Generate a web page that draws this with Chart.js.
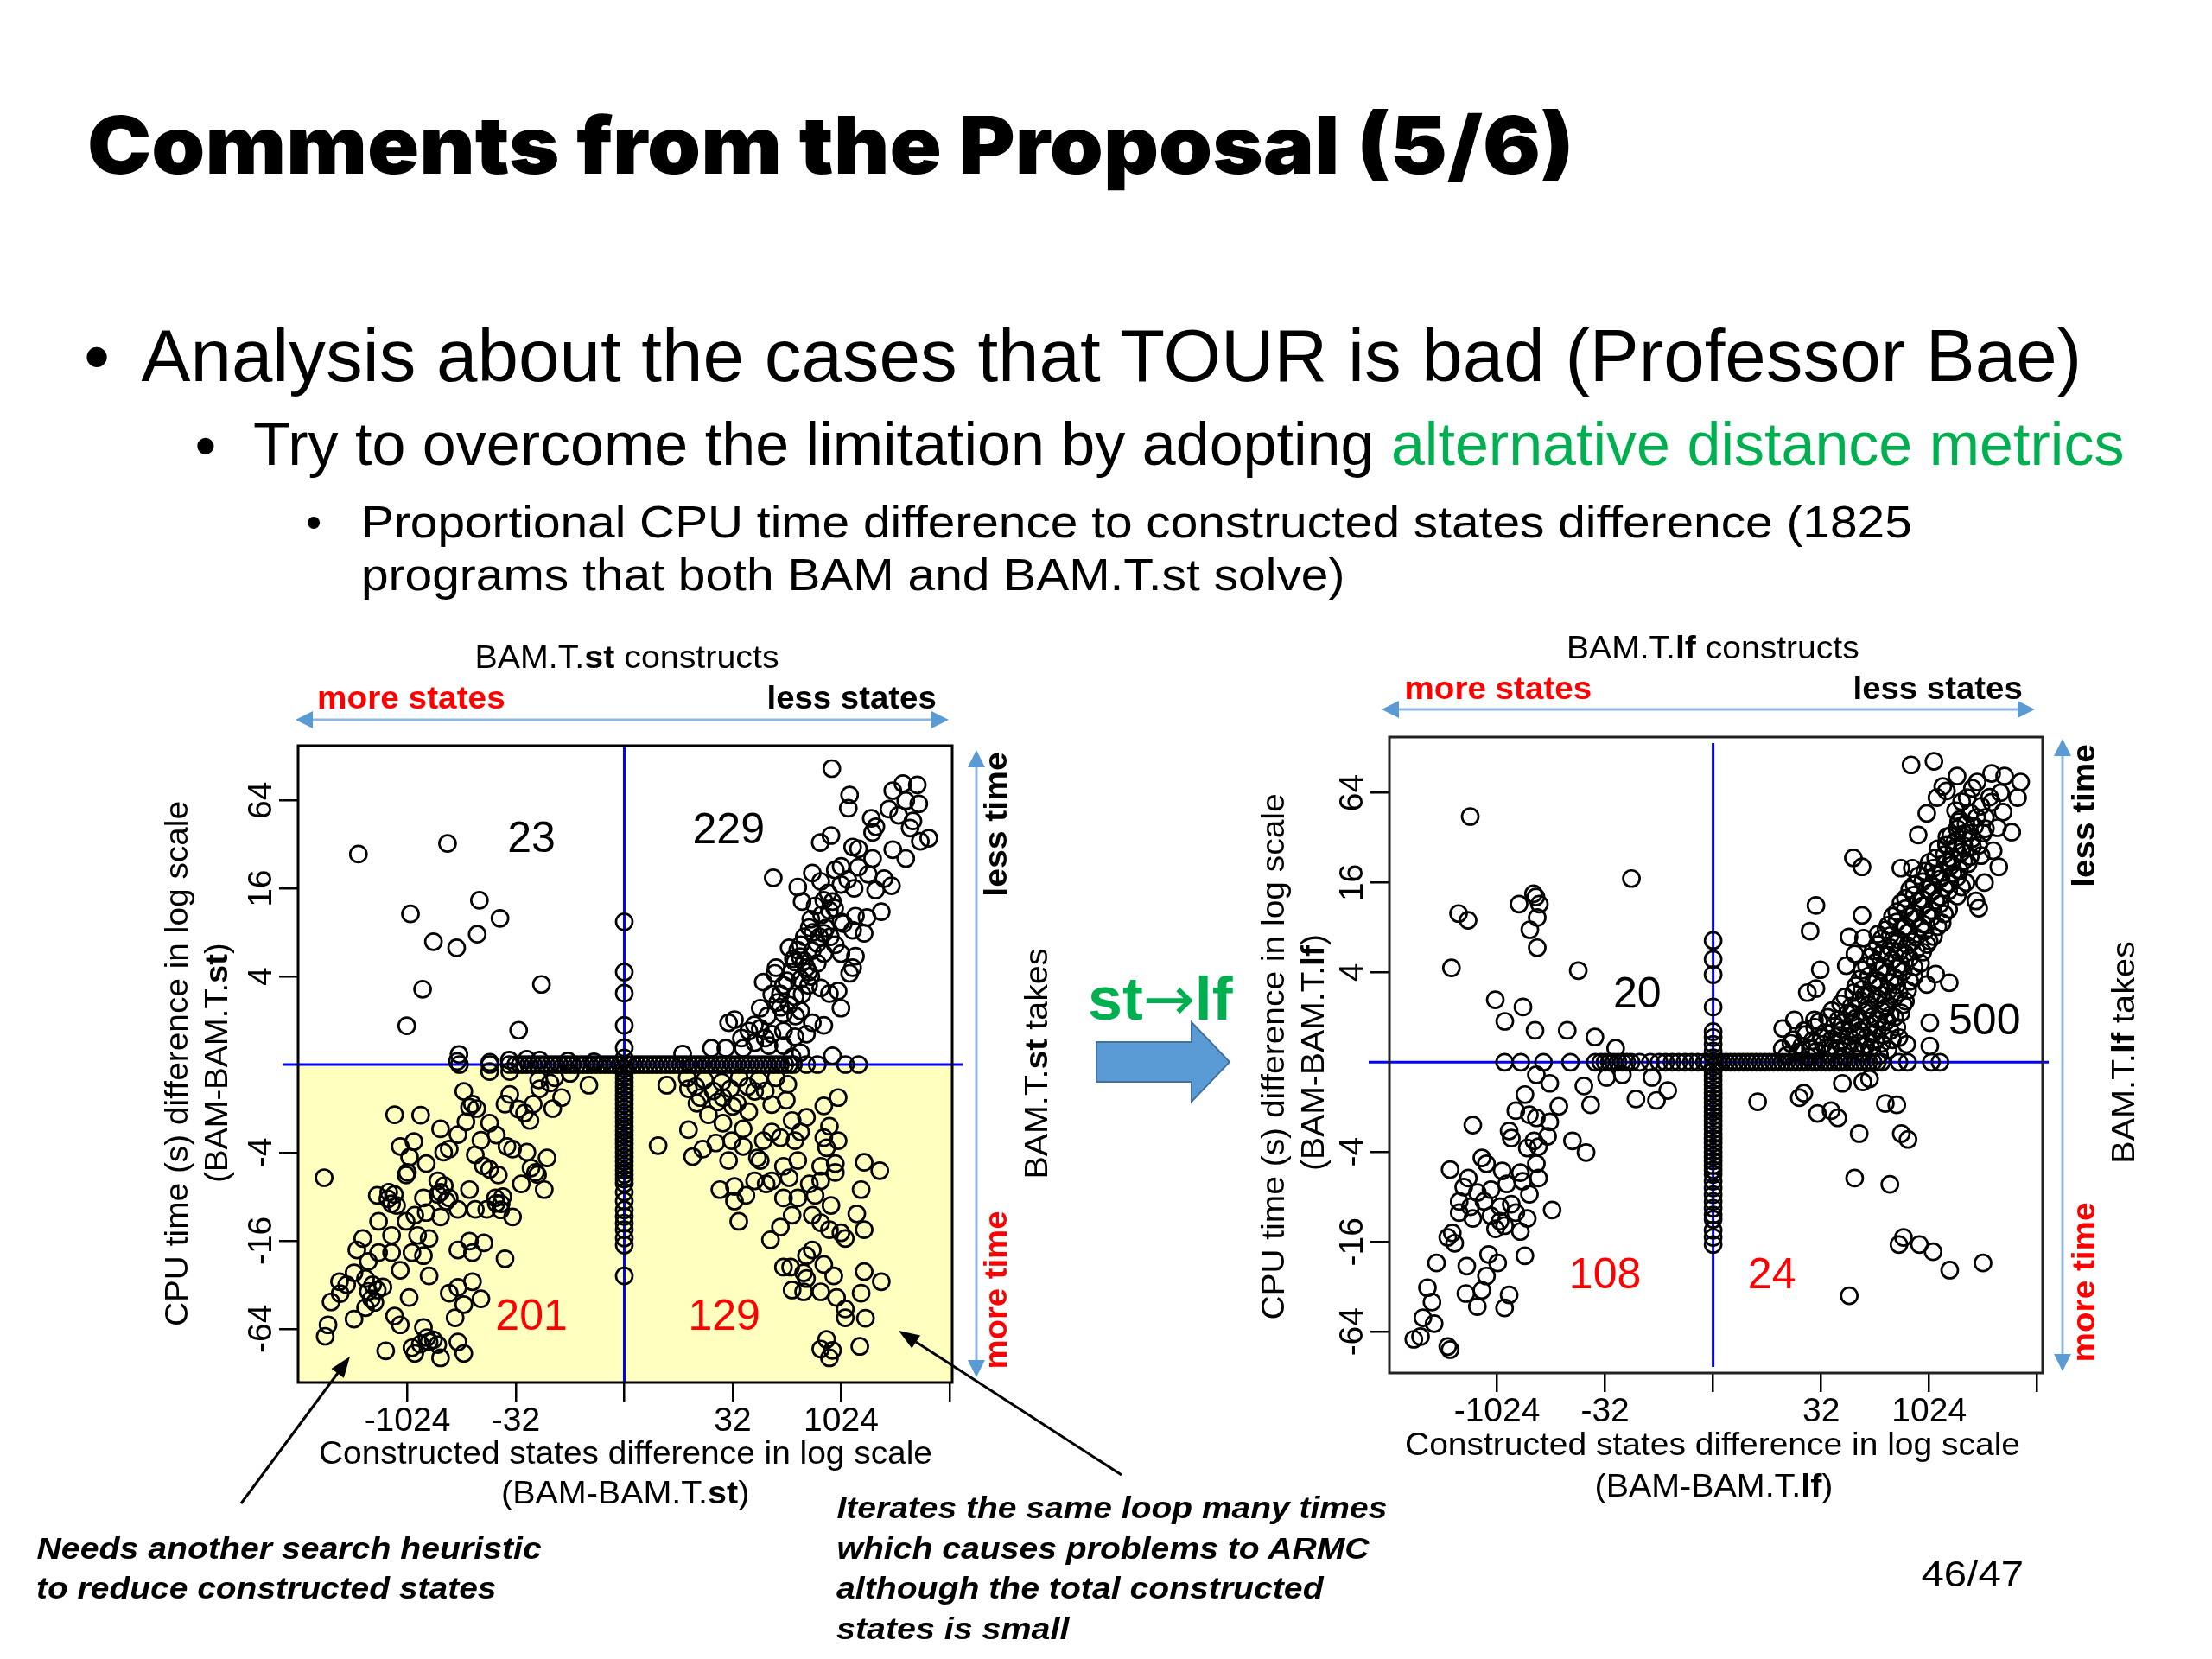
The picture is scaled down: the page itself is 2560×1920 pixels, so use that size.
<!DOCTYPE html>
<html>
<head>
<meta charset="utf-8">
<title>Comments from the Proposal (5/6)</title>
<script src="https://cdn.jsdelivr.net/npm/chart.js@4.4.1/dist/chart.umd.min.js"></script>
<style>
  html, body { margin: 0; padding: 0; }
  body { width: 2560px; height: 1920px; position: relative; overflow: hidden; background: #fff;
         font-family: "Liberation Sans", Arial, sans-serif; color: #000; }
  canvas { position: absolute; }
  #deco { position: absolute; left: 0; top: 0; }
  .txt { position: absolute; white-space: nowrap; line-height: normal; transform-origin: center center; }
  .green { color: #00B050; }
  .arr { font-family: "DejaVu Sans", sans-serif; font-weight: normal; }
</style>
</head>
<body>
<canvas id="stChart" width="877" height="837" style="left:245px;top:843px;width:877px;height:837px"></canvas>
<canvas id="lfChart" width="876" height="836" style="left:1508px;top:833px;width:876px;height:836px"></canvas>

<svg id="deco" width="2560" height="1920">
  <!-- light blue direction arrows -->
  <g stroke="#8DB6E2" stroke-width="3">
    <line x1="358" y1="833" x2="1082" y2="833"/>
    <line x1="1130" y1="884" x2="1130" y2="1578"/>
    <line x1="1615" y1="821" x2="2339" y2="821"/>
    <line x1="2387" y1="871" x2="2387" y2="1571"/>
  </g>
  <g fill="#5B9BD5">
    <polygon points="342,833 362,823 362,843"/>
    <polygon points="1098,833 1078,823 1078,843"/>
    <polygon points="1130,868 1120,888 1140,888"/>
    <polygon points="1130,1594 1120,1574 1140,1574"/>
    <polygon points="1599,821 1619,811 1619,831"/>
    <polygon points="2355,821 2335,811 2335,831"/>
    <polygon points="2387,855 2377,875 2397,875"/>
    <polygon points="2387,1587 2377,1567 2397,1567"/>
  </g>
  <!-- big block arrow between the plots -->
  <path d="M1269,1206 L1379,1206 L1379,1183 L1423,1229 L1379,1275 L1379,1252 L1269,1252 Z"
        fill="#5B9BD5" stroke="#41719C" stroke-width="2"/>
  <!-- annotation pointers -->
  <line x1="279" y1="1740" x2="391" y2="1589" stroke="#000" stroke-width="3"/>
  <polygon points="405,1570 397.9,1594.7 383.5,1583.9" fill="#000"/>
  <line x1="1298" y1="1707" x2="1060" y2="1553" stroke="#000" stroke-width="3"/>
  <polygon points="1040,1540 1065.1,1545.4 1055.3,1560.6" fill="#000"/>
</svg>

<script>
// ---- data (x = sign*log2|states diff|, y = sign*log2|cpu diff|) ----
const xTickVals = [-10, -5, 0, 5, 10, 15];
const xTickText = ['-1024', '-32', '', '32', '1024', ''];
const yTickVals = [-6, -4, -2, 2, 4, 6];
const yTickText = ['-64', '-16', '-4', '4', '16', '64'];

// BAM.T.st plot
const stUpperLeft = [[-12.26,4.78],[-8.15,5.02],[-9.86,3.42],[-6.68,3.73],[-5.73,3.32],[-8.8,2.79],[-7.73,2.65],
  [-6.78,2.96],[-9.3,1.71],[-3.82,1.82],[-10.03,0.88],[-4.87,0.78],[-7.62,0.23],[-7.7,0.07],[-5.3,0.1],[-6.2,0.05],
  [-4.5,0.12],[-3.9,0.1],[-2.6,0.08],[-1.4,0.06]];
const stUpperRight = [[9.57,6.72],[10.39,6.12],[10.33,5.82],[12.38,6.22],[12.85,6.38],[13.51,6.35],[12.98,5.99],
  [13.58,5.92],[12.65,5.66],[13.31,5.53],[13.18,5.37],[14.04,5.14],[13.65,5.07],[11.39,5.59],[11.45,5.27],[9.53,5.20],
  [9.04,5.04],[10.53,4.94],[6.87,4.24],[12.38,4.88],[12.98,4.68],[11.45,4.68],[10.79,4.48],[11.25,4.32],[11.98,4.22],
  [12.32,4.06],[11.59,3.96],[8.67,4.35],[9.73,4.42],[9.99,4.09],[9.06,4.16],[8.0,4.03],[8.2,3.70],[9.2,3.73],
  [9.46,3.50],[10.66,3.37],[11.19,3.34],[11.85,3.47],[9.99,3.24],[8.53,3.11],[9.2,2.98],[9.73,2.72],[10.53,3.05],
  [11.06,2.98],[7.6,2.65],[8.13,2.72],[8.67,2.59],[9.2,2.52],[9.99,2.52],[10.66,2.46],[10.53,2.20],[8.4,2.20],
  [7.87,2.33],[6.94,2.07],[6.41,1.87],[7.34,1.80],[8.13,1.94],[9.06,1.74],[9.86,1.67],[10.39,2.07],[9.99,1.28],
  [9.46,1.61],[7.87,1.54],[7.07,1.41],[6.27,1.28],[7.34,1.15],[8.13,1.22],[8.67,0.95],[9.2,0.89],[4.81,0.95],
  [5.08,1.02],[5.74,0.76],[6.27,0.82],[6.81,0.69],[7.34,0.76],[7.87,0.63],[8.4,0.69],[6.01,0.50],[6.67,0.43],
  [7.34,0.43],[4.02,0.37],[4.68,0.37],[5.48,0.37],[2.69,0.24],[8.13,0.27],[9.6,0.20],[7.74,0.17],
  [7.5,1.9],[7.8,2.4],[8.3,2.9],[8.6,3.3],[9.1,3.4],[8.9,2.3],[8.2,1.6],[7.2,1.6],[6.6,1.1],[6.0,0.9],[5.4,0.6],
  [7.0,2.2],[8.0,2.6],[8.8,3.6],[9.4,3.9],[10.0,4.5],[10.8,4.9],[11.6,5.4],[12.2,5.8],[6.5,0.6],[7.9,1.1],
  [8.5,1.8],[9.5,2.9],[10.1,3.2],[7.7,2.1],[8.1,2.45],[8.5,2.1],[8.9,2.75],[9.3,3.1],[9.7,3.55],[8.7,3.0],
  [8.3,2.35],[7.2,1.3],[6.8,1.6],[7.6,1.35],[8.6,2.0],[9.0,2.9],[9.6,3.7],[10.3,4.2],[10.6,4.0]];
const stLowerLeft = [[-13.84,-2.57],[-10.59,-1.14],[-9.39,-1.15],[-8.47,-1.46],[-7.40,-0.61],[-7.14,-0.97],
  [-6.21,-1.33],[-5.28,-0.68],[-4.88,-1.01],[-4.35,-1.27],[-3.95,-0.35],[-3.42,-0.42],[-2.89,-0.75],[-1.63,-0.47],
  [-6.21,-0.16],[-5.28,-0.16],[-10.33,-1.86],[-10.06,-2.51],[-9.13,-2.25],[-8.33,-1.99],[-8.07,-1.92],[-7.67,-1.59],
  [-6.87,-2.05],[-6.61,-1.72],[-6.21,-2.38],[-5.81,-2.51],[-5.41,-1.86],[-5.15,-1.92],[-4.49,-1.99],[-3.56,-2.12],
  [-4.09,-2.45],[-3.69,-2.84],[-4.75,-2.71],[-5.94,-3.03],[-5.68,-3.16],[-5.15,-3.46],[-6.34,-3.29],[-7.14,-2.84],
  [-6.87,-3.29],[-7.67,-3.29],[-8.47,-2.90],[-8.60,-2.64],[-8.07,-3.03],[-9.26,-3.03],[-9.13,-3.36],[-8.47,-3.46],
  [-9.66,-3.42],[-10.06,-3.56],[-10.86,-2.90],[-10.73,-3.16],[-11.39,-2.97],[-11.33,-3.56],[-10.73,-3.88],
  [-9.53,-3.88],[-9.0,-3.95],[-9.79,-4.27],[-9.26,-4.34],[-9.0,-4.80],[-10.33,-4.67],[-10.73,-4.27],[-11.33,-4.27],
  [-11.80,-4.47],[-12.06,-3.95],[-12.33,-4.21],[-12.46,-4.73],[-13.13,-4.93],[-13.52,-5.39],[-13.66,-5.91],
  [-13.79,-6.17],[-12.46,-5.78],[-11.93,-4.86],[-11.66,-5.32],[-11.39,-5.12],[-11.13,-5.05],[-11.93,-5.52],
  [-9.92,-5.29],[-10.59,-5.71],[-10.33,-5.91],[-11.0,-6.5],[-9.79,-6.43],[-9.26,-5.97],[-9.0,-6.30],[-8.60,-6.36],
  [-8.47,-6.66],[-9.66,-6.56],[-7.67,-6.30],[-7.40,-6.56],[-8.07,-5.19],[-7.67,-5.06],[-7.0,-4.93],[-6.61,-5.32],
  [-7.40,-5.45],[-7.80,-5.75],[-7.67,-4.21],[-7.14,-4.01],[-6.47,-4.05],[-7.0,-4.27],[-5.50,-4.41],[-10.0,-2.45],
  [-10.9,-3.05],[-10.6,-2.95],[-10.5,-3.2],[-8.3,-2.75],[-8.6,-2.95],[-8.2,-3.1],[-5.9,-3.15],[-5.6,-3.0],
  [-5.7,-3.3],[-11.8,-5.15],[-11.5,-5.4],[-11.6,-5.0],[-9.1,-6.2],[-8.8,-6.25],[-9.4,-6.35],[-7.0,-0.9],
  [-6.8,-1.0],[-4.6,-1.1],[-4.2,-0.9],[-3.9,-0.55],[-3.2,-0.3],[-2.5,-0.2],[-6.5,-2.3],[-4.3,-2.35],[-4.0,-2.5],
  [-12.8,-5.0],[-13.1,-5.2],[-9.7,-1.75],[-9.9,-2.1],[-7.3,-1.3],[-5.9,-1.6],[-5.5,-0.9],[-3.3,-1.0]];
const stLowerRight = [[1.96,-0.47],[1.56,-1.84],[2.96,-1.48],[3.15,-2.09],[3.62,-1.92],[4.22,-1.78],[2.96,-0.55],
  [3.35,-0.88],[3.88,-1.14],[4.55,-1.33],[4.55,-0.75],[5.21,-0.88],[5.74,-1.07],[6.01,-0.61],[6.80,-0.91],
  [7.54,-0.45],[7.47,-0.81],[5.48,-1.46],[4.95,-1.73],[5.48,-1.86],[4.81,-2.18],[6.14,-2.12],[6.41,-1.73],
  [6.80,-1.53],[7.20,-1.66],[7.74,-1.27],[8.40,-1.20],[8.13,-1.53],[7.87,-1.73],[9.20,-0.94],[9.86,-0.75],
  [9.46,-1.40],[9.20,-1.66],[9.86,-1.73],[9.33,-1.89],[4.41,-2.84],[5.08,-2.77],[5.08,-3.10],[5.61,-2.97],
  [5.28,-3.56],[6.01,-2.64],[6.54,-2.71],[6.80,-2.64],[6.27,-2.18],[7.34,-2.31],[7.60,-2.57],[8.0,-2.18],
  [7.34,-3.03],[8.0,-3.03],[8.53,-2.71],[9.06,-2.64],[8.80,-2.97],[9.06,-2.31],[9.73,-2.25],[9.73,-2.45],
  [9.53,-3.20],[11.06,-2.22],[11.78,-2.41],[10.92,-2.84],[10.72,-3.39],[11.06,-3.75],[7.74,-3.42],[7.20,-3.69],
  [6.74,-3.98],[8.67,-3.42],[9.06,-3.59],[9.46,-3.75],[9.99,-3.82],[10.19,-3.95],[8.67,-4.21],[8.40,-4.34],
  [9.20,-4.54],[7.34,-4.60],[7.67,-4.60],[8.27,-4.73],[8.40,-4.86],[9.66,-4.80],[7.74,-5.12],[8.27,-5.16],
  [9.06,-5.16],[9.79,-5.29],[10.19,-5.55],[10.19,-5.75],[11.06,-4.70],[11.85,-4.93],[10.92,-5.19],[11.12,-5.76],
  [9.33,-6.24],[9.06,-6.46],[9.60,-6.49],[9.46,-6.66],[10.86,-6.40],
  [2.9,-0.3],[3.3,-0.5],[3.7,-0.35],[4.1,-0.6],[4.5,-0.4],[4.9,-0.55],[5.3,-0.3],[5.7,-0.5],[6.2,-0.35],
  [3.5,-0.75],[4.3,-0.85],[5.0,-0.95],[6.5,-0.6],[7.0,-0.3]];
const stZeroRowX = [-7.6,-6.2,-5.3,-5.0,-4.8,-4.6,-4.4,-4.2,-4.0,-3.8,-3.6,-3.4,-3.2,-3.0,-2.8,-2.6,-2.4,-2.2,
  -2.0,-1.8,-1.6,-1.4,-1.2,-1.0,-0.8,-0.6,-0.4,-0.2,0.2,0.4,0.6,0.8,1.0,1.2,1.4,1.6,1.8,2.0,2.2,2.4,2.6,2.8,3.0,
  3.2,3.4,3.6,3.8,4.0,4.2,4.4,4.6,4.8,5.0,5.2,5.4,5.6,5.8,6.0,6.2,6.4,6.6,6.8,7.0,7.2,7.4,7.6,7.8,8.4,8.9,10.2,10.8];
const stZeroColY = [3.24,2.10,1.62,0.89,0.38,0.15,-0.1,-0.2,-0.3,-0.4,-0.5,-0.6,-0.7,-0.8,-0.9,-1.0,-1.1,-1.2,
  -1.3,-1.4,-1.5,-1.6,-1.7,-1.8,-1.9,-2.0,-2.1,-2.2,-2.3,-2.4,-2.5,-2.6,-2.7,-2.9,-3.1,-3.3,-3.45,-3.6,-3.75,
  -3.94,-4.1,-4.8];
const stCounts = ['23', '229', '201', '129'];

// BAM.T.lf plot
const lfUpperLeft = [[-11.24,5.47],[-11.78,3.31],[-11.34,3.16],[-12.11,2.10],[-8.98,3.52],[-8.31,3.75],[-8.2,3.68],
  [-8.04,3.52],[-8.14,3.22],[-8.48,2.95],[-8.14,2.55],[-3.78,4.09],[-6.24,2.04],[-10.08,1.39],[-9.64,0.91],
  [-8.80,1.23],[-8.24,0.71],[-6.75,0.71],[-5.47,0.56],[-4.51,0.31]];
const lfUpperRight = [[9.16,6.62],[10.22,6.70],[11.29,6.37],[10.63,6.14],[10.8,6.04],[10.36,5.89],[9.89,5.54],
  [11.76,5.89],[12.22,6.24],[12.89,6.43],[13.49,6.37],[14.23,6.24],[14.09,5.89],[12.89,5.79],[13.42,5.57],
  [13.82,5.12],[13.16,5.22],[9.49,5.06],[11.22,5.6],[11.36,5.35],[10.82,5.02],[11.62,5.09],[12.29,4.83],
  [12.96,4.71],[13.22,4.35],[12.56,4.0],[12.29,3.43],[12.16,3.59],[6.49,4.55],[6.89,4.35],[4.76,3.49],[6.89,3.27],
  [4.49,2.92],[4.96,2.06],[4.36,1.55],[4.76,1.64],[6.29,2.79],[6.96,2.76],[7.62,2.85],[6.56,2.41],[6.16,2.15],
  [3.22,0.75],[3.76,0.94],[4.29,0.62],[4.69,0.94],[10.03,0.88],[10.03,0.36],[8.96,0.4],[10.3,1.96],[10.93,1.77],
  [9.89,1.73],[10.82,4.83],[8.69,4.32],[9.22,4.32],
  [3.4,0.15],[3.9,0.22],[4.4,0.12],[4.8,0.25],[5.3,0.18],[5.7,0.3],[6.1,0.14],[6.5,0.27],[6.9,0.2],[7.3,0.33],
  [7.7,0.16],[8.1,0.28],[3.6,0.42],[4.1,0.36],[4.6,0.48],[5.1,0.4],[5.5,0.52],[5.9,0.45],[6.3,0.58],[6.7,0.42],
  [7.1,0.55],[7.5,0.47],[7.9,0.6],[8.3,0.5],[4.2,0.7],[4.7,0.78],[5.2,0.66],[5.6,0.8],[6.0,0.72],[6.4,0.85],
  [6.8,0.7],[7.2,0.82],[7.6,0.74],[8.0,0.9],[8.5,0.78],[5.3,1.0],[5.8,0.95],[6.2,1.08],[6.6,0.98],[7.0,1.12],
  [7.4,1.02],[7.8,1.15],[8.2,1.05],[8.7,1.1],[5.9,1.3],[6.4,1.25],[6.8,1.38],[7.2,1.28],[7.6,1.42],[8.0,1.33],
  [8.4,1.45],[8.9,1.36],[6.5,1.55],[6.9,1.62],[7.3,1.52],[7.7,1.68],[8.1,1.58],[8.5,1.72],[9.0,1.6],[6.8,1.85],
  [7.2,1.92],[7.6,1.82],[8.0,1.98],[8.4,1.88],[8.8,2.02],[9.3,1.9],[7.1,2.15],[7.5,2.22],[7.9,2.12],[8.3,2.28],
  [8.7,2.18],[9.1,2.32],[9.6,2.2],[7.4,2.48],[7.8,2.42],[8.2,2.55],[8.6,2.45],[9.0,2.6],[9.4,2.5],[9.9,2.62],
  [7.8,2.75],[8.2,2.82],[8.6,2.72],[9.0,2.88],[9.4,2.78],[9.8,2.92],[10.2,2.8],[8.1,3.05],[8.5,3.12],[8.9,3.02],
  [9.3,3.18],[9.7,3.08],[10.1,3.22],[10.6,3.1],[8.5,3.35],[8.9,3.42],[9.3,3.32],[9.7,3.48],[10.1,3.38],[10.5,3.52],
  [10.9,3.4],[8.9,3.65],[9.3,3.72],[9.7,3.62],[10.1,3.78],[10.5,3.68],[10.9,3.82],[11.3,3.7],[9.3,3.95],[9.7,4.02],
  [10.1,3.92],[10.5,4.08],[10.9,3.98],[11.3,4.12],[11.7,4.0],[9.8,4.25],[10.2,4.32],[10.6,4.22],[11.0,4.38],
  [11.4,4.28],[11.8,4.42],[10.3,4.55],[10.7,4.62],[11.1,4.52],[11.5,4.68],[11.9,4.58],[12.4,4.6],[10.8,4.85],
  [11.2,4.92],[11.6,4.82],[12.0,4.98],[12.5,5.1],[11.3,5.2],[11.7,5.3],[12.1,5.25],[12.6,5.45],[11.9,5.55],
  [12.4,5.7],[12.8,5.9],[13.3,6.0],[11.5,5.8],[12.0,6.1],
  [3.2,0.3],[3.7,0.5],[4.5,0.3],[5.0,0.55],[5.4,0.35],[5.8,0.6],[6.2,0.4],[6.6,0.65],[7.0,0.38],[7.4,0.62],
  [7.8,0.42],[8.2,0.7],[8.6,0.55],[4.9,0.9],[5.5,1.15],[6.0,0.88],[6.4,1.1],[6.8,0.92],[7.2,1.18],[7.6,0.95],
  [8.0,1.22],[8.4,1.0],[8.8,1.28],[6.1,1.45],[6.6,1.7],[7.0,1.48],[7.4,1.75],[7.8,1.5],[8.2,1.78],[8.6,1.55],
  [9.1,1.8],[6.9,2.05],[7.3,2.35],[7.7,2.05],[8.1,2.38],[8.5,2.1],[8.9,2.42],[9.3,2.12],[9.7,2.45],[7.6,2.62],
  [8.0,2.95],[8.4,2.65],[8.8,2.98],[9.2,2.68],[9.6,3.0],[10.0,2.7],[10.4,3.02],[8.3,3.25],[8.7,3.55],[9.1,3.25],
  [9.5,3.58],[9.9,3.28],[10.3,3.6],[10.7,3.3],[9.1,3.85],[9.5,4.15],[9.9,3.85],[10.3,4.18],[10.7,3.88],[11.1,4.2],
  [11.5,3.9],[10.0,4.45],[10.4,4.75],[10.8,4.45],[11.2,4.78],[11.6,4.48],[12.0,4.8],[11.0,5.05],[11.4,5.4],
  [11.8,5.1],[12.2,5.45],[12.6,5.2]];
const lfLowerLeft = [[-11.12,-1.40],[-8.71,-0.72],[-9.13,-1.08],[-8.50,-1.17],[-8.18,-1.24],[-7.56,-1.33],
  [-9.44,-1.53],[-9.34,-1.69],[-8.29,-1.75],[-7.66,-1.65],[-8.60,-1.91],[-8.08,-1.88],[-7.14,-0.98],[-5.67,-0.95],
  [-5.98,-0.53],[-6.51,-1.75],[-5.88,-2.01],[-3.57,-0.82],[-2.62,-0.85],[-2.10,-0.63],[-8.18,-0.28],[-7.56,-0.47],
  [-4.93,-0.34],[-4.20,-0.28],[-2.83,-0.34],[-12.17,-2.39],[-11.33,-2.58],[-10.70,-2.13],[-10.49,-2.26],
  [-9.76,-2.42],[-8.92,-2.46],[-8.18,-2.26],[-8.08,-2.58],[-11.54,-2.78],[-10.91,-2.90],[-10.28,-2.84],
  [-9.55,-2.71],[-8.81,-2.65],[-8.50,-2.94],[-11.75,-3.10],[-11.23,-3.22],[-10.60,-3.10],[-9.86,-3.22],
  [-9.34,-3.16],[-11.75,-3.35],[-11.12,-3.48],[-10.28,-3.42],[-9.86,-3.54],[-9.13,-3.35],[-8.60,-3.48],
  [-10.07,-3.71],[-9.65,-3.64],[-8.92,-3.77],[-7.45,-3.29],[-12.07,-3.80],[-12.28,-3.90],[-11.96,-4.03],
  [-12.80,-4.47],[-11.40,-4.54],[-10.39,-4.28],[-9.97,-4.47],[-8.71,-4.31],[-10.49,-4.76],[-13.22,-5.02],
  [-13.01,-5.34],[-11.44,-5.15],[-10.91,-5.44],[-10.70,-5.08],[-9.44,-5.18],[-9.65,-5.47],[-13.43,-5.69],
  [-12.91,-5.82],[-13.85,-6.17],[-13.54,-6.11],[-12.28,-6.33],[-12.17,-6.40]];
const lfLowerRight = [[2.06,-0.88],[3.99,-0.79],[4.20,-0.69],[4.83,-1.14],[5.46,-1.08],[5.77,-1.24],[5.98,-0.47],
  [6.93,-0.44],[7.24,-0.37],[6.76,-1.59],[7.97,-0.92],[8.50,-0.95],[8.71,-1.59],[9.02,-1.72],[6.55,-2.58],
  [8.18,-2.72],[8.60,-4.06],[8.81,-3.90],[9.55,-4.06],[10.18,-4.22],[10.95,-4.63],[12.49,-4.47],[6.30,-5.20]];
const lfZeroRowX = [-9.65,-8.9,-7.85,-6.6,-5.45,-5.2,-5.0,-4.8,-4.6,-4.4,-4.2,-4.0,-3.8,-3.4,-2.9,-2.5,-2.2,-1.9,
  -1.6,-1.3,-1.0,-0.7,-0.4,-0.2,0.2,0.4,0.6,0.8,1.0,1.2,1.4,1.6,1.8,2.0,2.2,2.4,2.6,2.8,3.0,3.2,3.4,3.6,3.8,4.0,
  4.2,4.4,4.6,4.8,5.0,5.2,5.4,5.6,5.8,6.0,6.2,6.4,6.6,6.8,7.0,7.2,7.4,7.6,7.8,8.6,9.0,10.1,10.5];
const lfZeroColY = [2.71,2.29,1.95,1.23,0.68,0.55,0.4,0.25,0.1,-0.1,-0.2,-0.3,-0.4,-0.5,-0.6,-0.7,-0.8,-0.9,-1.0,
  -1.1,-1.2,-1.3,-1.4,-1.5,-1.6,-1.7,-1.8,-1.9,-2.0,-2.1,-2.2,-2.3,-2.4,-2.5,-2.65,-2.8,-2.95,-3.1,-3.25,-3.4,
  -3.5,-3.74,-3.9,-4.06];
const lfCounts = ['20', '500', '108', '24'];

// ---- chart helpers ----
Chart.defaults.font.family = '"Liberation Sans", Arial, sans-serif';
Chart.defaults.color = '#000';

function toPoints(quads, rowX, colY) {
    const pts = [];
    quads.forEach(function(q) { q.forEach(function(p) { pts.push({x: p[0], y: p[1]}); }); });
    rowX.forEach(function(v) { pts.push({x: v, y: 0}); });
    colY.forEach(function(v) { pts.push({x: 0, y: v}); });
    return pts;
}

// yellow shade, blue zero lines, frame, rotated y labels, quadrant counts
const quadrantPlugin = {
    id: 'quadrant',
    beforeDatasetsDraw(chart, args, o) {
        const ctx = chart.ctx, a = chart.chartArea;
        const x0 = chart.scales.x.getPixelForValue(0);
        const y0 = chart.scales.y.getPixelForValue(0);
        ctx.save();
        if (o.shade) {
            ctx.fillStyle = o.shade;
            ctx.fillRect(a.left, y0, a.right - a.left, a.bottom - y0);
        }
        ctx.strokeStyle = '#0000FF';
        ctx.lineWidth = 3;
        ctx.beginPath();
        ctx.moveTo(a.left - o.hExt[0], y0);
        ctx.lineTo(a.right + o.hExt[1], y0);
        ctx.moveTo(x0, a.top + o.vInset);
        ctx.lineTo(x0, a.bottom - o.vInset);
        ctx.stroke();
        ctx.restore();
    },
    afterDatasetsDraw(chart, args, o) {
        const ctx = chart.ctx, a = chart.chartArea;
        const xs = chart.scales.x, ys = chart.scales.y;
        ctx.save();
        ctx.strokeStyle = o.frame;
        ctx.lineWidth = 3;
        ctx.strokeRect(a.left, a.top, a.right - a.left, a.bottom - a.top);

        // y tick labels, turned like in R
        ctx.fillStyle = '#000';
        ctx.font = '39px "Liberation Sans", Arial, sans-serif';
        ctx.textAlign = 'center';
        ctx.textBaseline = 'middle';
        ys.ticks.forEach(function(t) {
            const i = yTickVals.indexOf(t.value);
            if (i < 0) return;
            ctx.save();
            ctx.translate(a.left - 42, ys.getPixelForValue(t.value));
            ctx.rotate(-Math.PI / 2);
            ctx.fillText(yTickText[i], 0, 0);
            ctx.restore();
        });

        // counts per quadrant
        ctx.font = '50px "Liberation Sans", Arial, sans-serif';
        o.counts.forEach(function(txt, i) {
            ctx.fillStyle = o.countColors[i];
            ctx.fillText(txt, xs.getPixelForValue(o.countAt[i][0]), ys.getPixelForValue(o.countAt[i][1]));
        });
        ctx.restore();
    }
};

function makeChart(id, pts, o) {
    return new Chart(document.getElementById(id), {
        type: 'scatter',
        data: {
            datasets: [{
                data: pts,
                pointRadius: 9.5,
                pointBorderWidth: 2.7,
                pointBorderColor: '#000',
                pointBackgroundColor: 'rgba(0,0,0,0)',
                pointStyle: 'circle'
            }]
        },
        options: {
            responsive: false,
            animation: false,
            devicePixelRatio: 1,
            events: [],
            layout: {padding: {left: 0, top: 20, right: 20, bottom: 0}},
            plugins: {
                legend: {display: false},
                tooltip: {enabled: false},
                quadrant: o.plugin
            },
            scales: {
                x: {
                    type: 'linear',
                    min: o.xMin, max: o.xMax,
                    afterBuildTicks: function(s) { s.ticks = xTickVals.map(function(v) { return {value: v}; }); },
                    afterFit: function(s) { s.height = 80; },
                    ticks: {
                        autoSkip: false, maxRotation: 0, minRotation: 0, padding: 0,
                        font: {size: 39},
                        callback: function(v) { const i = xTickVals.indexOf(v); return i < 0 ? '' : xTickText[i]; }
                    },
                    grid: {drawOnChartArea: false, drawTicks: true, tickLength: 22, color: '#000', lineWidth: 2.5},
                    border: {display: false}
                },
                y: {
                    type: 'linear',
                    min: o.yMin, max: o.yMax,
                    afterBuildTicks: function(s) { s.ticks = yTickVals.map(function(v) { return {value: v}; }); },
                    afterFit: function(s) { s.width = 100; },
                    ticks: {display: false},
                    grid: {drawOnChartArea: false, drawTicks: true, tickLength: 22, color: '#000', lineWidth: 2.5},
                    border: {display: false}
                }
            }
        },
        plugins: [quadrantPlugin]
    });
}

const stChart = makeChart('stChart',
    toPoints([stUpperLeft, stUpperRight, stLowerLeft, stLowerRight], stZeroRowX, stZeroColY), {
    xMin: -15.04, xMax: 15.12, yMin: -7.22, yMax: 7.24,
    plugin: {
        shade: '#FFFFC0', frame: '#000', hExt: [18, 12], vInset: 0,
        counts: stCounts,
        countAt: [[-4.28, 5.10], [4.81, 5.30], [-4.28, -5.76], [4.61, -5.76]],
        countColors: ['#000', '#000', '#FF0000', '#FF0000']
    }
});

const lfChart = makeChart('lfChart',
    toPoints([lfUpperLeft, lfUpperRight, lfLowerLeft, lfLowerRight], lfZeroRowX, lfZeroColY), {
    xMin: -14.98, xMax: 15.25, yMin: -6.92, yMax: 7.24,
    plugin: {
        shade: null, frame: '#222', hExt: [24, 7], vInset: 7,
        counts: lfCounts,
        countAt: [[-3.51, 1.49], [12.56, 0.88], [-5.0, -4.76], [2.72, -4.76]],
        countColors: ['#000', '#000', '#FF0000', '#FF0000']
    }
});

// ---- slide text ----
const F = '"Liberation Sans", Arial, sans-serif';
const textItems = [
    {h: 'Comments from the Proposal (5/6)', cx: 961, cy: 167, w: 1720, f: '900 92px Inter, "DejaVu Sans", sans-serif'},
    {h: '•', cx: 112, cy: 412, f: '86px ' + F},
    {h: 'Analysis about the cases that TOUR is bad (Professor Bae)', cx: 1286, cy: 411, w: 2246, f: '86px ' + F},
    {h: '•', cx: 238, cy: 515, f: '71px ' + F},
    {h: 'Try to overcome the limitation by adopting <span class="green">alternative distance metrics</span>',
        cx: 1375.5, cy: 513.5, w: 2165, f: '71px ' + F},
    {h: '•', cx: 363, cy: 604, f: '52px ' + F},
    {h: 'Proportional CPU time difference to constructed states difference (1825', cx: 1315.5, cy: 604, w: 1795, f: '52px ' + F},
    {h: 'programs that both BAM and BAM.T.st solve)', cx: 987, cy: 665, w: 1138, f: '52px ' + F},

    // left plot
    {h: 'BAM.T.<b>st</b> constructs', cx: 725, cy: 761, w: 352, f: '37px ' + F},
    {h: 'more states', cx: 476, cy: 808, w: 218, f: 'bold 37px ' + F, c: '#FF0000'},
    {h: 'less states', cx: 985, cy: 808, w: 196, f: 'bold 37px ' + F},
    {h: 'Constructed states difference in log scale', cx: 724, cy: 1682, w: 710, f: '37px ' + F},
    {h: '(BAM-BAM.T.<b>st</b>)', cx: 723.5, cy: 1728, w: 287, f: '37px ' + F},
    {h: 'CPU time (s) difference in log scale', cx: 204, cy: 1231, w: 608, r: -90, f: '37px ' + F},
    {h: '(BAM-BAM.T.<b>st</b>)', cx: 250, cy: 1229.5, w: 277, r: -90, f: '37px ' + F},
    {h: 'less time', cx: 1153, cy: 953.5, w: 167, r: -90, f: 'bold 37px ' + F},
    {h: 'more time', cx: 1153, cy: 1492.5, w: 183, r: -90, f: 'bold 37px ' + F, c: '#FF0000'},
    {h: 'BAM.T.<b>st</b> takes', cx: 1200, cy: 1230.5, w: 267, r: -90, f: '37px ' + F},

    // arrow label
    {h: 'st<span class="arr">→</span>lf', cx: 1343, cy: 1156, w: 168, f: 'bold 70px ' + F, c: '#00B050'},

    // right plot
    {h: 'BAM.T.<b>lf</b> constructs', cx: 1982.5, cy: 750, w: 339, f: '37px ' + F},
    {h: 'more states', cx: 1733.5, cy: 797, w: 217, f: 'bold 37px ' + F, c: '#FF0000'},
    {h: 'less states', cx: 2242, cy: 797, w: 196, f: 'bold 37px ' + F},
    {h: 'Constructed states difference in log scale', cx: 1982, cy: 1672, w: 712, f: '37px ' + F},
    {h: '(BAM-BAM.T.<b>lf</b>)', cx: 1983, cy: 1720, w: 276, f: '37px ' + F},
    {h: 'CPU time (s) difference in log scale', cx: 1473, cy: 1222.5, w: 609, r: -90, f: '37px ' + F},
    {h: '(BAM-BAM.T.<b>lf</b>)', cx: 1519, cy: 1218, w: 274, r: -90, f: '37px ' + F},
    {h: 'less time', cx: 2412, cy: 943.5, w: 165, r: -90, f: 'bold 37px ' + F},
    {h: 'more time', cx: 2412, cy: 1483.5, w: 185, r: -90, f: 'bold 37px ' + F, c: '#FF0000'},
    {h: 'BAM.T.<b>lf</b> takes', cx: 2458, cy: 1218, w: 258, r: -90, f: '37px ' + F},

    // notes
    {h: 'Needs another search heuristic', cx: 334, cy: 1792, w: 584, f: 'italic bold 35px ' + F},
    {h: 'to reduce constructed states', cx: 308, cy: 1838, w: 532, f: 'italic bold 35px ' + F},
    {h: 'Iterates the same loop many times', cx: 1286.5, cy: 1745, w: 637, f: 'italic bold 35px ' + F},
    {h: 'which causes problems to ARMC', cx: 1276, cy: 1792, w: 616, f: 'italic bold 35px ' + F},
    {h: 'although the total constructed', cx: 1250, cy: 1838, w: 564, f: 'italic bold 35px ' + F},
    {h: 'states is small', cx: 1102.5, cy: 1885, w: 269, f: 'italic bold 35px ' + F},
    {h: '46/47', cx: 2283, cy: 1821, w: 119, f: '43px ' + F}
];

function placeText(t) {
    const el = document.createElement('div');
    el.className = 'txt';
    el.innerHTML = t.h;
    el.style.font = t.f;
    if (t.c) el.style.color = t.c;
    document.body.appendChild(el);
    const nw = el.offsetWidth, nh = el.offsetHeight;
    el.style.left = (t.cx - nw / 2) + 'px';
    el.style.top = (t.cy - nh / 2) + 'px';
    const sx = t.w ? t.w / nw : 1;
    el.style.transform = 'rotate(' + (t.r || 0) + 'deg) scaleX(' + sx + ')';
}

document.fonts.ready.then(function() {
    textItems.forEach(placeText);
});
</script>
</body>
</html>
